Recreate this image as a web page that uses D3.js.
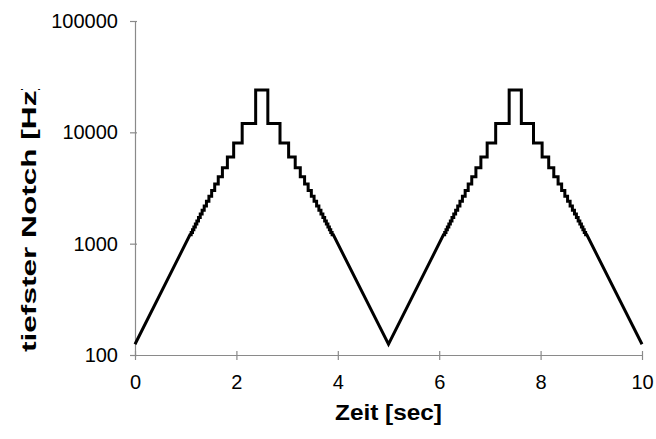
<!DOCTYPE html>
<html>
<head>
<meta charset="utf-8">
<script src="https://cdn.jsdelivr.net/npm/d3@7"></script>
<style>
  html, body { margin: 0; padding: 0; background: #fff; }
  svg { display: block; }
</style>
</head>
<body>
<svg id="chart" width="656" height="439"></svg>
<script>
// ---- data ----
const xTicks = [0, 2, 4, 6, 8, 10];
const yTicks = [100, 1000, 10000, 100000];
const xTitle = "Zeit [sec]";
const yTitle = "tiefster Notch [Hz]";

// end points of the curve (start, valley, end)
const anchorTimes = [0, 5, 10];
const anchorHz = [125, 125, 125];

// staircase levels (Hz), from the lowest visible step up to the top
const riseHz = [1200, 1263, 1333, 1412, 1500, 1600, 1714, 1846, 2000, 2182,
                2400, 2667, 3000, 3429, 4000, 4800, 6000, 8000, 12000, 24000];
// time each level begins on the rising ramps
const riseTimes1 = [1.084, 1.108, 1.134, 1.161, 1.190, 1.220, 1.252, 1.287, 1.324, 1.365,
                    1.409, 1.458, 1.512, 1.572, 1.642, 1.724, 1.822, 1.946, 2.114, 2.38];
const riseTimes2 = [6.084, 6.108, 6.134, 6.161, 6.190, 6.220, 6.252, 6.287, 6.324, 6.365,
                    6.409, 6.458, 6.512, 6.572, 6.642, 6.724, 6.822, 6.946, 7.114, 7.38];
// falling ramps: levels from top down, and the time each level ends
const fallHz = [24000, 12000, 8000, 6000, 4800, 4000, 3429, 3000, 2667, 2400,
                2182, 2000, 1846, 1714, 1600, 1500, 1412, 1333, 1263, 1200];
const fallTimes1 = [2.62, 2.86, 3.03, 3.16, 3.26, 3.345, 3.415, 3.478, 3.532, 3.582,
                    3.627, 3.668, 3.706, 3.741, 3.774, 3.805, 3.834, 3.861, 3.888, 3.912];
const fallTimes2 = [7.62, 7.86, 8.03, 8.16, 8.26, 8.345, 8.415, 8.478, 8.532, 8.582,
                    8.627, 8.668, 8.706, 8.741, 8.774, 8.805, 8.834, 8.861, 8.888, 8.912];

// ---- layout ----
const svg = d3.select("#chart");
const x = d3.scaleLinear().domain([0, 10]).range([135, 642]);
const y = d3.scaleLog().domain([100, 100000]).range([355, 21]);
const FONT = "'Liberation Sans', Arial, Helvetica, sans-serif";
const AXIS_COLOR = "#8a8a8a";

// build corner points of the staircase curve from the data
function peakPoints(riseT, fallT) {
  const pts = [];
  for (let i = 0; i < riseT.length; i++) {
    if (i > 0) pts.push([riseT[i], riseHz[i - 1]]);
    pts.push([riseT[i], riseHz[i]]);
  }
  for (let i = 0; i < fallT.length; i++) {
    pts.push([fallT[i], fallHz[i]]);
    if (i + 1 < fallT.length) pts.push([fallT[i], fallHz[i + 1]]);
  }
  return pts;
}
const curve = [[anchorTimes[0], anchorHz[0]]]
  .concat(peakPoints(riseTimes1, fallTimes1))
  .concat([[anchorTimes[1], anchorHz[1]]])
  .concat(peakPoints(riseTimes2, fallTimes2))
  .concat([[anchorTimes[2], anchorHz[2]]]);

// ---- axes ----
const yAxis = d3.axisLeft(y).tickValues(yTicks).tickFormat(d3.format("d"))
  .tickSizeInner(5).tickSizeOuter(0).tickPadding(12);
const xAxis = d3.axisBottom(x).tickValues(xTicks).tickFormat(d3.format("d"))
  .tickSizeInner(5).tickSizeOuter(0).tickPadding(15);

const gy = svg.append("g").attr("transform", `translate(${x(0)},0)`).call(yAxis);
const gx = svg.append("g").attr("transform", `translate(0,${y(100)})`).call(xAxis);

[gx, gy].forEach(g => {
  g.select(".domain").attr("stroke", AXIS_COLOR).attr("stroke-width", 1.2);
  g.selectAll(".tick line").attr("stroke", AXIS_COLOR).attr("stroke-width", 1.2);
  g.selectAll(".tick text").attr("font-family", FONT).attr("font-size", 20).attr("fill", "#000");
});
gy.selectAll(".tick line").attr("x1", 2);
gx.selectAll(".tick line").attr("y1", -4);

// ---- curve ----
svg.append("path")
  .datum(curve)
  .attr("fill", "none")
  .attr("stroke", "#000")
  .attr("stroke-width", 3)
  .attr("stroke-linejoin", "miter")
  .attr("d", d3.line().x(d => x(d[0])).y(d => y(d[1])));

// ---- titles ----
svg.append("text")
  .attr("x", (x(0) + x(10)) / 2)
  .attr("y", 420)
  .attr("text-anchor", "middle")
  .attr("font-family", FONT)
  .attr("font-weight", "bold")
  .attr("font-size", 22)
  .attr("textLength", 107)
  .attr("lengthAdjust", "spacingAndGlyphs")
  .text(xTitle);

svg.append("clipPath").attr("id", "yclip")
  .append("rect").attr("x", 0).attr("y", 89).attr("width", 80).attr("height", 350);

svg.append("g").attr("clip-path", "url(#yclip)")
  .append("text")
  .attr("transform", "translate(36,352) rotate(-90)")
  .attr("text-anchor", "start")
  .attr("font-family", FONT)
  .attr("font-weight", "bold")
  .attr("font-size", 21)
  .attr("textLength", 272)
  .attr("lengthAdjust", "spacingAndGlyphs")
  .text(yTitle);
</script>
</body>
</html>
